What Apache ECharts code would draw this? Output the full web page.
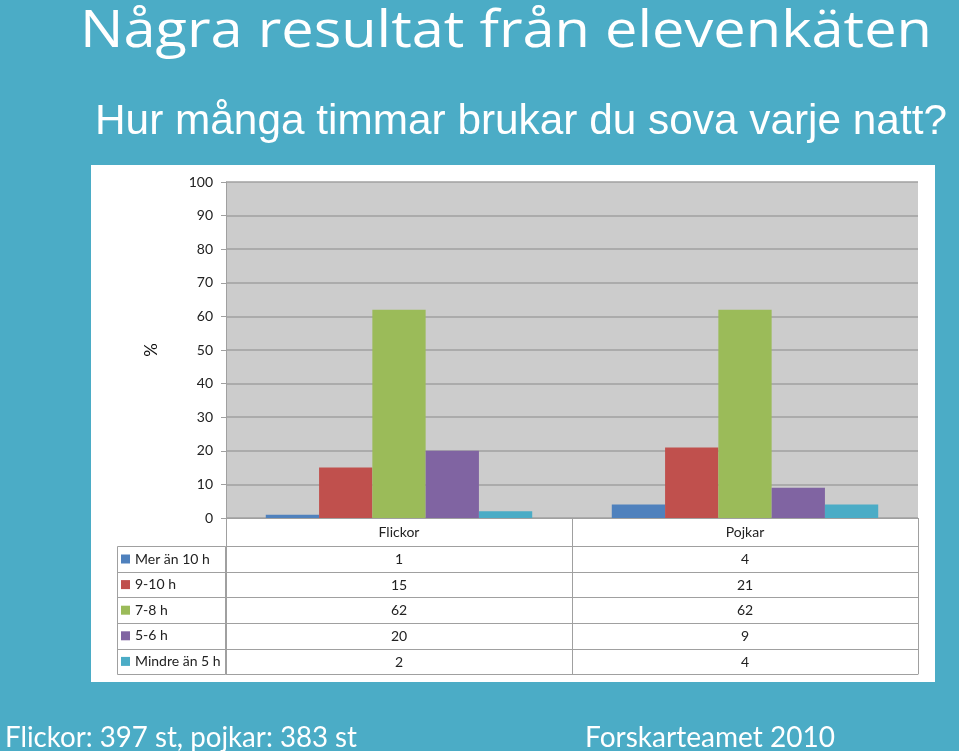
<!DOCTYPE html>
<html>
<head>
<meta charset="utf-8">
<script src="https://cdn.jsdelivr.net/npm/echarts@6/dist/echarts.min.js"></script>
<style>
html,body{margin:0;padding:0;background:#4BACC6;}
#chart{width:959px;height:751px;}
</style>
</head>
<body>
<div id="chart"></div>
<script>
// ---- data ----
const categories = ['Flickor', 'Pojkar'];
const seriesNames = ['Mer än 10 h', '9-10 h', '7-8 h', '5-6 h', 'Mindre än 5 h'];
const merAn10h = [1, 4];
const h9to10 = [15, 21];
const h7to8 = [62, 62];
const h5to6 = [20, 9];
const mindreAn5h = [2, 4];
const yMin = 0, yMax = 100, yInterval = 10;
const titleText = 'Några resultat från elevenkäten';
const subtitleText = 'Hur många timmar brukar du sova varje natt?';
const footLeft = 'Flickor: 397 st, pojkar: 383 st';
const footRight = 'Forskarteamet 2010';
const yName = '%';

const seriesValues = [merAn10h, h9to10, h7to8, h5to6, mindreAn5h];
const colors = ['#4F81BD', '#C0504D', '#9BBB59', '#8064A2', '#4BACC6'];

const lineColor = '#A0A0A0';
const chartFont = 'Lato';
const tableFontSize = 14;

// fit a text string to a target width (layout helper)
const measureCtx = document.createElement('canvas').getContext('2d');
function fitScale(text, font, targetWidth) {
  measureCtx.font = font;
  const w = measureCtx.measureText(text).width;
  return w > 0 ? targetWidth / w : 1;
}
function slideText(text, font, x, y, targetWidth) {
  return {
    type: 'text', x: x, y: y, scaleX: fitScale(text, font, targetWidth), silent: true,
    style: {text: text, font: font, fill: '#FFFFFF', textAlign: 'left', textVerticalAlign: 'middle'}
  };
}

// table row offsets below x axis (px)
const rowOffsets = [28, 54, 79, 105, 131];
const tableBottom = 156;

const xAxes = [{
  type: 'category', data: categories, gridIndex: 0, position: 'bottom',
  axisLine: {lineStyle: {color: lineColor, width: 1}},
  axisTick: {show: true, length: 28, lineStyle: {color: lineColor}},
  axisLabel: {color: '#222', fontFamily: chartFont, fontSize: tableFontSize, lineHeight: 14, margin: 7}
}];
seriesValues.forEach(function (vals, k) {
  const len = (k < 4 ? rowOffsets[k + 1] : tableBottom) - rowOffsets[k];
  xAxes.push({
    type: 'category', data: categories, gridIndex: 0, position: 'bottom', offset: rowOffsets[k],
    axisLine: {lineStyle: {color: lineColor, width: 1}},
    axisTick: {show: true, length: len, lineStyle: {color: lineColor}},
    axisLabel: {
      color: '#222', fontFamily: chartFont, fontSize: tableFontSize, lineHeight: 14, margin: 6,
      formatter: function (v, idx) { return String(vals[idx]); }
    }
  });
});
xAxes.push({
  type: 'category', data: categories, gridIndex: 0, position: 'bottom', offset: tableBottom,
  axisLine: {lineStyle: {color: lineColor, width: 1}},
  axisTick: {show: false}, axisLabel: {show: false}
});

const series = seriesNames.map(function (name, k) {
  return {
    name: name, type: 'bar', xAxisIndex: 0, yAxisIndex: 0,
    data: seriesValues[k],
    barGap: '0%', barCategoryGap: '23%',
    itemStyle: {color: colors[k]},
    emphasis: {disabled: true}
  };
});

// left column of the data table
const leftX = 117, axisX = 226, tableTopY = 518;
const tableGraphics = [];
tableGraphics.push({
  type: 'rect', shape: {x: leftX + 0.5, y: tableTopY + rowOffsets[0] + 0.5, width: axisX - leftX - 1, height: tableBottom - rowOffsets[0]},
  style: {fill: null, stroke: lineColor, lineWidth: 1}, z: 5
});
for (let k = 1; k < rowOffsets.length; k++) {
  tableGraphics.push({
    type: 'line', shape: {x1: leftX, y1: tableTopY + rowOffsets[k] + 0.5, x2: axisX, y2: tableTopY + rowOffsets[k] + 0.5},
    style: {stroke: lineColor, lineWidth: 1}, z: 5
  });
}

const option = {
  backgroundColor: '#4BACC6',
  animation: false,
  textStyle: {fontFamily: chartFont},
  graphic: [
    {type: 'rect', shape: {x: 91, y: 165, width: 844, height: 517}, style: {fill: '#FFFFFF'}, z: -10, silent: true},
    slideText(titleText, '52px "Open Sans"', 80, 32, 852),
    slideText(subtitleText, '42px "Liberation Sans"', 95, 122, 852),
    slideText(footLeft, '29px Lato', 5, 738, 352),
    slideText(footRight, '29px Lato', 585, 738, 250)
  ].concat(tableGraphics),
  legend: {
    show: true, orient: 'vertical', left: 121, top: 551, padding: 0,
    itemWidth: 9, itemHeight: 9, itemGap: 9.6, icon: 'rect', selectedMode: false,
    textStyle: {color: '#222', fontFamily: chartFont, fontSize: tableFontSize, lineHeight: 16},
    data: seriesNames
  },
  grid: {
    left: 226, top: 182, width: 692, height: 336,
    show: true, backgroundColor: '#CCCCCC', borderWidth: 0
  },
  xAxis: xAxes,
  yAxis: {
    type: 'value', min: yMin, max: yMax, interval: yInterval,
    name: yName, nameLocation: 'middle', nameGap: 66, nameRotate: 90,
    nameTextStyle: {color: '#111', fontFamily: chartFont, fontSize: 17},
    axisLine: {show: true, lineStyle: {color: lineColor}},
    axisTick: {show: true, length: 5, lineStyle: {color: lineColor}},
    axisLabel: {color: '#222', fontFamily: chartFont, fontSize: 14, margin: 13},
    splitLine: {show: true, lineStyle: {color: '#A0A0A0', width: 1.5}}
  },
  series: series
};

const chart = echarts.init(document.getElementById('chart'), null, {renderer: 'canvas'});
chart.setOption(option);
</script>
</body>
</html>
